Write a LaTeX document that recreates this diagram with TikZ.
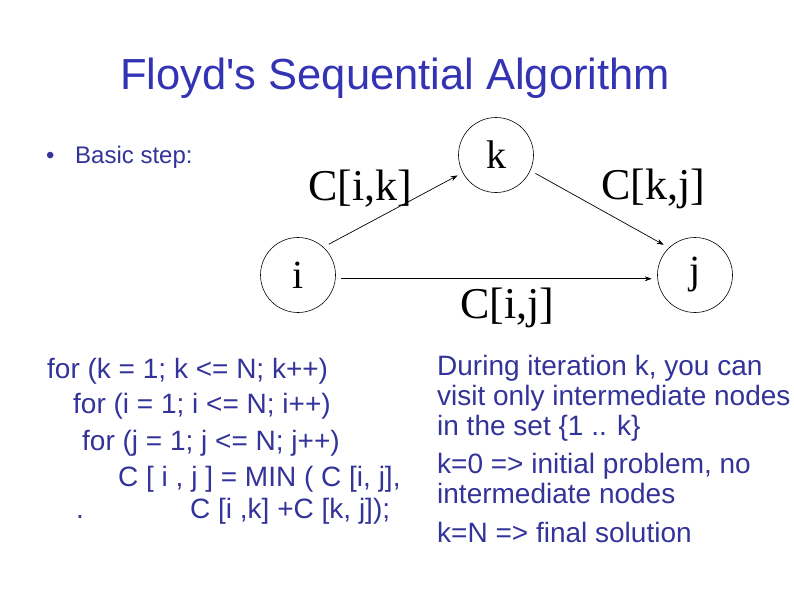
\documentclass[tikz,border=0pt]{standalone}
\usepackage{fontspec}
\setmainfont{Liberation Sans}[Ligatures=TeXOff]
\newfontfamily\serifnode{Liberation Serif}
\usetikzlibrary{arrows.meta}
\definecolor{titleblue}{RGB}{51,51,180}
\definecolor{textblue}{RGB}{51,51,153}
\tikzset{
  txt/.style={anchor=base west, inner sep=0pt, text=textblue, font=\fontsize{28}{34}\selectfont},
  vert/.style={circle, draw=black, line width=0.6pt, minimum size=75pt, inner sep=0pt, outer sep=6pt, font=\serifnode\fontsize{40}{40}\selectfont},
  lbl/.style={anchor=base west, inner sep=0pt, font=\serifnode\fontsize{44}{44}\selectfont},
  edge/.style={line width=0.7pt, -{Stealth[length=7pt,width=5pt]}}
}
\begin{document}
\begin{tikzpicture}[x=1pt,y=-1pt]
\useasboundingbox (0,0) rectangle (794,595);
\node[anchor=base west, inner sep=0pt, text=titleblue, font=\fontsize{43.5}{44}\selectfont] (title) at (120,89) {Floyd's Sequential Algorithm};
\node[txt, font=\fontsize{24}{28}\selectfont] (bul) at (46,163) {\textbullet};
\node[txt, font=\fontsize{24}{28}\selectfont] (basic) at (75,163) {Basic step:};

\node[vert] (i) at (298,275) {i};
\node[vert] (k) at (496,155) {k};
\node[vert] (j) at (695,275) {j};

\draw[edge] (i.45) -- (k.208);
\draw[edge] (k.335) -- (j.136);
\draw[edge] (i.-5) -- (j.185);

\node[lbl] (cik) at (308,200) {C[i,k]};
\node[lbl] (ckj) at (601,199) {C[k,j]};
\node[lbl] (cij) at (460,318) {C[i,j]};

\node[txt] (c1) at (47,378) {for (k = 1; k <= N; k++)};
\node[txt] (c2) at (73,413) {for (i = 1; i <= N; i++)};
\node[txt] (c3) at (82,450) {for (j = 1; j <= N; j++)};
\node[txt] (c4) at (118,486) {C [ i , j ] = MIN ( C [i, j],};
\node[txt] (c5a) at (76,518) {.};
\node[txt] (c5) at (190,518) {C [i ,k] +C [k, j]);};

\node[txt] (r1) at (437,375) {During iteration k, you can};
\node[txt] (r2) at (437,405) {visit only intermediate nodes};
\node[txt] (r3) at (437,435) {in the set \{1 .. k\}};
\node[txt] (r4) at (437,473) {k=0 => initial problem, no};
\node[txt] (r5) at (437,503) {intermediate nodes};
\node[txt] (r6) at (437,542) {k=N => final solution};
\end{tikzpicture}
\end{document}
